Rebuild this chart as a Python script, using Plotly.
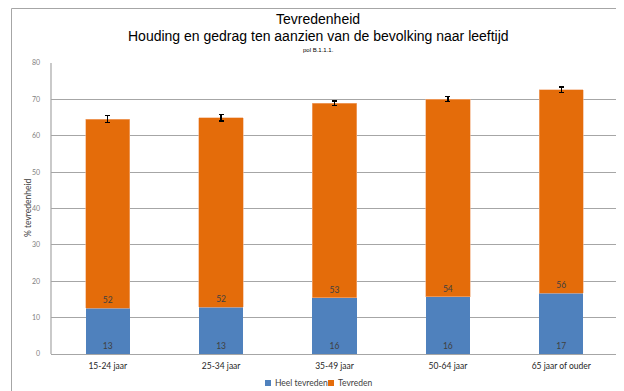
import plotly.graph_objects as go

categories = ["15-24 jaar", "25-34 jaar", "35-49 jaar", "50-64 jaar", "65 jaar of ouder"]
heel_tevreden = [12.6, 12.85, 15.5, 15.8, 16.7]
tevreden = [52.0, 52.1, 53.4, 54.3, 55.9]
error_tot = [1.0, 0.9, 0.65, 0.65, 0.8]
heel_labels = ["13", "13", "16", "16", "17"]
tev_labels = ["52", "52", "53", "54", "56"]
y_ticks = [0, 10, 20, 30, 40, 50, 60, 70, 80]
series_names = ["Heel tevreden", "Tevreden"]
series_colors = ["#4f81bd", "#e46c0a"]

# page body has an 8px margin; work in image coords and convert
OFF = 8
W, H = 624 - OFF, 391 - OFF
L, T = 51 - OFF, 63 - OFF
R, B = 6, 37
pw, ph = W - L - R, H - T - B

def px_x(x):
    return (x - OFF - L) / pw

def px_y(y):
    return (H - B - (y - OFF)) / ph

fig = go.Figure()
fig.add_trace(go.Bar(
    x=categories, y=heel_tevreden, name=series_names[0],
    marker=dict(color=series_colors[0], line=dict(width=0)),
    text=heel_labels, textposition="inside", insidetextanchor="start",
    textfont=dict(size=8.5, color="#404040", family="Lato"),
    width=0.39, showlegend=False,
))
fig.add_trace(go.Bar(
    x=categories, y=tevreden, name=series_names[1],
    marker=dict(color=series_colors[1], line=dict(width=0.6, color="#f4b183")),
    text=tev_labels, textposition="inside", insidetextanchor="start",
    textfont=dict(size=8.5, color="#404040", family="Lato"),
    width=0.39, showlegend=False,
    error_y=dict(type="data", array=error_tot, color="#000000", thickness=1.3, width=2.5),
))

annotations = [
    dict(text="Tevredenheid", x=px_x(318), y=px_y(19), xref="paper", yref="paper",
         showarrow=False, font=dict(size=14, family="Liberation Sans", color="#000000"),
         xanchor="center", yanchor="middle"),
    dict(text="Houding en gedrag ten aanzien van de bevolking naar leeftijd", x=px_x(318), y=px_y(36),
         xref="paper", yref="paper", showarrow=False,
         font=dict(size=14, family="Liberation Sans", color="#000000"),
         xanchor="center", yanchor="middle"),
    dict(text="pol B.1.1.1.", x=px_x(318), y=px_y(50), xref="paper", yref="paper",
         showarrow=False, font=dict(size=6, family="Liberation Sans", color="#000000"),
         xanchor="center", yanchor="middle"),
    dict(text="% tevredenheid", x=px_x(28), y=px_y(208), xref="paper", yref="paper",
         showarrow=False, textangle=-90, xanchor="center", yanchor="middle",
         font=dict(size=8.5, family="Lato", color="#404040")),
]

shapes = [
    dict(type="rect", xref="paper", yref="paper",
         x0=px_x(11.5), x1=px_x(660), y0=px_y(420), y1=px_y(8.5),
         line=dict(color="#a6a6a6", width=1), fillcolor="rgba(0,0,0,0)", layer="below"),
    dict(type="line", xref="paper", yref="paper", x0=0, x1=0, y0=0, y1=1,
         line=dict(color="#a6a6a6", width=1.2), layer="below"),
]

# manual legend
legend_x = [265, 328]
for name, color, lx in zip(series_names, series_colors, legend_x):
    shapes.append(dict(type="rect", xref="paper", yref="paper",
                       x0=px_x(lx), x1=px_x(lx + 6), y0=px_y(386), y1=px_y(380),
                       fillcolor=color, line=dict(width=0)))
    annotations.append(dict(text=name, x=px_x(lx + 8), y=px_y(383), xref="paper", yref="paper",
                            showarrow=False, xanchor="left", yanchor="middle",
                            font=dict(size=8.5, family="Lato", color="#404040")))

fig.update_layout(
    width=W, height=H,
    margin=dict(l=L, r=R, t=T, b=B, pad=0, autoexpand=False),
    paper_bgcolor="white", plot_bgcolor="white",
    barmode="stack",
    showlegend=False,
    annotations=annotations,
    shapes=shapes,
    uniformtext=dict(minsize=7, mode="show"),
    font=dict(family="Lato"),
)
fig.update_xaxes(showgrid=False, showline=True, linecolor="#a6a6a6", linewidth=1.2,
                 tickfont=dict(size=8.5, family="Lato", color="#262626"), ticks="",
                 ticklabelstandoff=4, automargin=False)
fig.update_yaxes(range=[0, 80], tickvals=y_ticks, showgrid=True, gridcolor="#a6a6a6", gridwidth=1.2,
                 zeroline=False, showline=False, automargin=False,
                 tickfont=dict(size=7, family="Lato", color="#7f7f7f"), ticks="",
                 ticklabelstandoff=10)

fig.write_html("out.html")
